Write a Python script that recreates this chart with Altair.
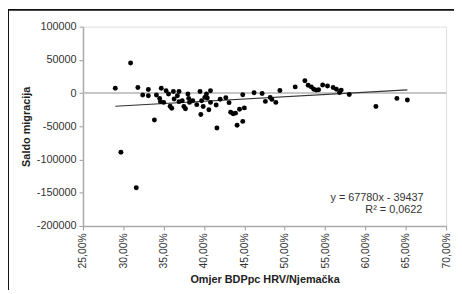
import altair as alt
import pandas as pd

# Omjer BDPpc HRV/Njemačka (in %) and Saldo migracija
x_ratio_pct = [29.0, 30.9, 31.8, 32.4, 33.1, 33.1, 33.85, 34.1, 34.5, 34.7,
               34.6, 35.0, 35.3, 35.6, 35.8, 36.0, 36.2, 36.3, 36.7, 36.9,
               36.9, 37.3, 37.5, 37.7, 38.0, 38.1, 38.2, 38.6, 39.1, 39.5,
               39.6, 39.7, 39.9, 40.1, 40.3, 40.4, 40.6, 40.8, 40.8, 41.5,
               41.6, 42.0, 42.7, 43.1, 43.3, 43.6, 44.1, 44.4, 44.8, 44.8,
               45.0, 46.2, 47.2, 47.6, 48.2, 48.4, 48.9, 49.4, 51.3, 52.5,
               52.9, 53.3, 53.6, 53.9, 54.2, 54.7, 55.3, 56.0, 56.4, 56.8,
               57.0, 58.0, 61.3, 63.9, 65.2, 29.7, 31.6, 43.9]
saldo = [7400, 45400, 8300, -3000, 5300, -4000, -40600, -3000, -8000, 7400,
         -12900, -14000, 3400, -1500, -19900, -22800, 2400, -8900, -4000, 2400,
         -12900, -11400, -20300, -23700, -1500, -8000, -14000, -11400, -17400, 2400,
         -32200, -11400, -20300, -6500, -1500, -7400, -25200, 3400, -14000, -17800,
         -52500, -9400, -7000, -14400, -28800, -31200, -48500, -24300, -42600, -2500,
         -22300, 400, -600, -12500, -6500, -9500, -14000, 3900, 9300, 18700,
         11900, 9300, 5900, 4500, 4900, 12300, 10800, 8300, 5900, 900,
         4500, -2100, -20300, -8000, -10400, -89000, -142500, -30200]

trend_slope = 67780
trend_intercept = -39437
trend_x = [0.29, 0.652]

x_ticks = [0.25, 0.30, 0.35, 0.40, 0.45, 0.50, 0.55, 0.60, 0.65, 0.70]
y_ticks = [-200000, -150000, -100000, -50000, 0, 50000, 100000]
eq_line1 = "y = 67780x - 39437"
eq_line2 = "R² = 0,0622"

df = pd.DataFrame({"x": [v / 100 for v in x_ratio_pct], "y": saldo})
trend_df = pd.DataFrame({"x": trend_x,
                         "y": [trend_slope * v + trend_intercept for v in trend_x]})
zero_df = pd.DataFrame({"y": [0]})
one = pd.DataFrame({"a": [0]})

FONT = "Liberation Sans"

xscale = alt.Scale(domain=[0.25, 0.70], nice=False, zero=False)
yscale = alt.Scale(domain=[-200000, 100000], nice=False)

xaxis = alt.Axis(values=x_ticks,
                 labelExpr="replace(format(datum.value, '.2%'), '.', ',')",
                 labelAngle=-90, labelFontSize=10.5, labelColor="#333333",
                 labelPadding=3, tickSize=4, tickColor="#999999",
                 labelOverlap=False, labelBound=False,
                 domainColor="#aaaaaa", domainWidth=1.5, grid=False,
                 title="Omjer BDPpc HRV/Njemačka", titleFontSize=11,
                 titleFontWeight="bold", titleColor="#222222", titlePadding=6,
                 labelFont=FONT, titleFont=FONT)
yaxis = alt.Axis(values=y_ticks, labelExpr="datum.value + ''",
                 labelFontSize=11, labelColor="#333333", labelPadding=3,
                 labelOverlap=False, labelBound=False,
                 tickSize=4, tickColor="#999999", domainColor="#aaaaaa",
                 domainWidth=1.5, grid=False,
                 title="Saldo migracija", titleFontSize=11,
                 titleFontWeight="bold", titleColor="#222222", titlePadding=5,
                 labelFont=FONT, titleFont=FONT)

frame = alt.Chart(one).mark_rect(fillOpacity=0, stroke="#111111", strokeWidth=2).encode(
    x=alt.value(-76), x2=alt.value(420), y=alt.value(-17), y2=alt.value(320))

zero_line = alt.Chart(zero_df).mark_rule(color="#b4b4b4", strokeWidth=1.5).encode(
    y=alt.Y("y:Q", scale=yscale, axis=yaxis))

points = alt.Chart(df).mark_circle(size=25, color="#000000", opacity=1).encode(
    x=alt.X("x:Q", scale=xscale, axis=xaxis),
    y=alt.Y("y:Q", scale=yscale, axis=yaxis))

trend = alt.Chart(trend_df).mark_line(color="#333333", strokeWidth=1.2).encode(
    x=alt.X("x:Q", scale=xscale, axis=xaxis),
    y=alt.Y("y:Q", scale=yscale, axis=yaxis))

txt1 = alt.Chart(one).mark_text(text=eq_line1, fontSize=11, font=FONT,
                                color="#333333", align="center",
                                baseline="middle").encode(
    x=alt.value(298), y=alt.value(174))
txt2 = alt.Chart(one).mark_text(text=eq_line2, fontSize=11, font=FONT,
                                color="#333333", align="center",
                                baseline="middle").encode(
    x=alt.value(315), y=alt.value(186))

chart = alt.layer(zero_line, trend, points, txt1, txt2, frame).properties(
    width=368, height=202,
    autosize=alt.AutoSizeParams(type="none"),
    padding={"left": 76, "top": 17, "right": 8, "bottom": 63},
).resolve_axis(y="shared", x="shared").configure_view(
    stroke="#b0b0b0", strokeWidth=1.5).configure(background="white")

chart.save("out.html", embed_options={"renderer": "svg", "actions": False})
